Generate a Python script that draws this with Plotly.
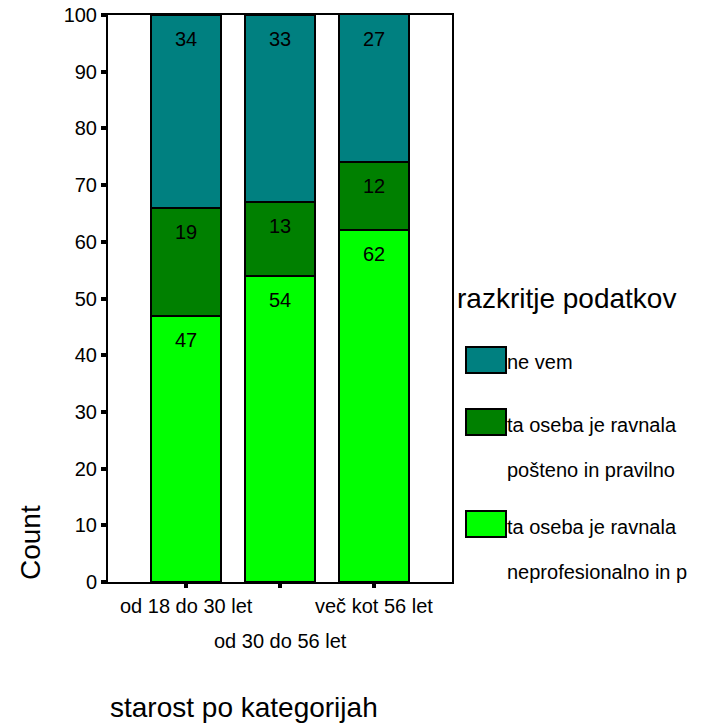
import plotly.graph_objects as go

categories = ["od 18 do 30 let", "od 30 do 56 let", "več kot 56 let"]
series_names = ["ta oseba je ravnala<br>neprofesionalno in p",
                "ta oseba je ravnala<br>pošteno in pravilno",
                "ne vem"]
val_neprof = [47, 54, 62]
val_posteno = [19, 13, 12]
val_nevem = [34, 33, 27]
colors = ["#00FF00", "#008000", "#008080"]
y_ticks = [0, 10, 20, 30, 40, 50, 60, 70, 80, 90, 100]

series = [val_neprof, val_posteno, val_nevem]
FONT = "Liberation Sans, Arial, sans-serif"
FS = 20
FS_TITLE = 28

W, H = 707, 726
L, R, T, B = 108, 255, 15, 144
pw, ph = W - L - R, H - T - B
def px_x(x):
    return (x - L) / pw
def px_y(y):
    return (H - B - y) / ph

fig = go.Figure()
for name, vals, col in zip(series_names, series, colors):
    fig.add_trace(go.Bar(x=list(range(len(categories))), y=vals, name=name,
                         marker=dict(color=col, line=dict(color="black", width=2)),
                         width=0.745, showlegend=False, hoverinfo="skip"))

annotations = []
# data labels at top of each segment
for i in range(len(categories)):
    cum = 0
    for vals in series:
        cum += vals[i]
        top = min(cum, 100)
        annotations.append(dict(x=i, y=top, xref="x", yref="y", text=str(vals[i]),
                                showarrow=False, yanchor="top", yshift=-11,
                                font=dict(family=FONT, size=FS, color="black")))

# staggered category labels
for i, c in enumerate(categories):
    annotations.append(dict(x=i, y=px_y(606 if i != 1 else 641), xref="x", yref="paper",
                            text=c, showarrow=False, yanchor="middle",
                            font=dict(family=FONT, size=FS, color="black")))

annotations.append(dict(x=px_x(30), y=px_y(543), xref="paper", yref="paper", text="Count",
                        showarrow=False, textangle=-90, xanchor="center", yanchor="middle",
                        font=dict(family=FONT, size=FS_TITLE, color="black")))

annotations.append(dict(text="starost po kategorijah", x=px_x(244), y=px_y(707),
                        xref="paper", yref="paper", showarrow=False,
                        xanchor="center", yanchor="middle",
                        font=dict(family=FONT, size=FS_TITLE, color="black")))

# legend (manual)
annotations.append(dict(text="razkritje podatkov", x=px_x(455), y=px_y(298),
                        xref="paper", yref="paper", showarrow=False,
                        xanchor="left", yanchor="middle",
                        font=dict(family=FONT, size=FS_TITLE, color="black")))
legend_items = [(series_names[2], colors[2], 347, [362]),
                (series_names[1], colors[1], 409, [425, 470]),
                (series_names[0], colors[0], 511, [527, 572])]
shapes = []
for name, col, ytop, text_ys in legend_items:
    shapes.append(dict(type="rect", xref="paper", yref="paper",
                       x0=px_x(466), x1=px_x(506), y0=px_y(ytop), y1=px_y(ytop + 26),
                       fillcolor=col, line=dict(color="black", width=2)))
    for line, ty in zip(name.split("<br>"), text_ys):
        annotations.append(dict(text=line, x=px_x(505), y=px_y(ty), xref="paper", yref="paper",
                                showarrow=False, xanchor="left", yanchor="middle",
                                font=dict(family=FONT, size=FS, color="black")))

fig.update_layout(
    barmode="stack",
    width=W, height=H,
    margin=dict(l=L, r=R, t=T, b=B, autoexpand=False),
    plot_bgcolor="white", paper_bgcolor="white",
    font=dict(family=FONT, size=FS, color="black"),
    annotations=annotations,
    shapes=shapes,
    hovermode=False,
    xaxis=dict(range=[-0.83, 2.83], tickvals=list(range(len(categories))), showticklabels=False,
               ticks="outside", ticklen=4, tickwidth=4, tickcolor="black",
               showline=True, linecolor="black", linewidth=2, mirror=True,
               showgrid=False, zeroline=False),
    yaxis=dict(range=[0, 100], tickvals=y_ticks, ticks="outside", ticklen=5, tickwidth=4,
               tickcolor="black", showline=True, linecolor="black", linewidth=2, mirror=True,
               showgrid=False, zeroline=False, tickfont=dict(family=FONT, size=FS, color="black")),
)

fig.write_html("out.html", config={"displayModeBar": False},
               post_script="document.body.style.margin='0';document.body.style.overflow='hidden';")
